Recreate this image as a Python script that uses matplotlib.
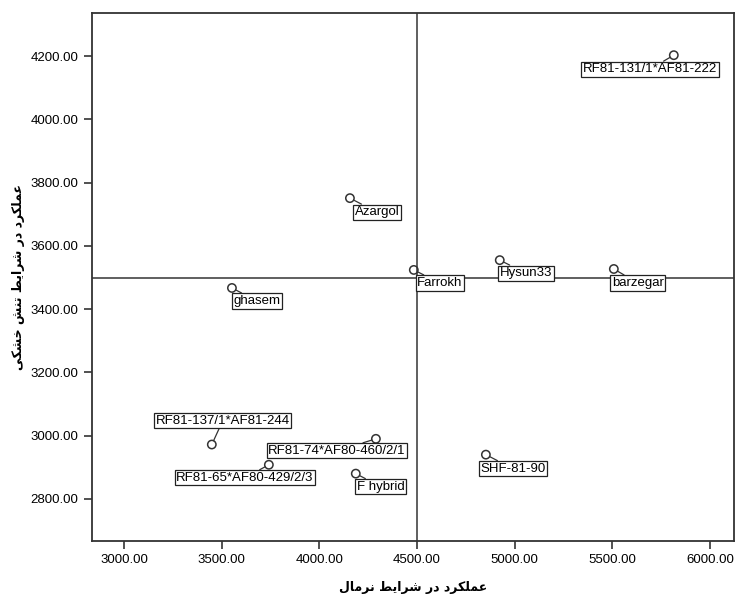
import matplotlib
matplotlib.use('Agg')
import matplotlib.pyplot as plt

plt.rcParams['font.family'] = ['Liberation Sans', 'DejaVu Sans']

# genotypes: yield under normal (x) and drought stress (y)
names = ['RF81-131/1*AF81-222', 'Azargol', 'Farrokh', 'Hysun33', 'barzegar',
         'ghasem', 'RF81-137/1*AF81-244', 'RF81-65*AF80-429/2/3',
         'RF81-74*AF80-460/2/1', 'F hybrid', 'SHF-81-90']
normal = [5815, 4157, 4484, 4924, 5508, 3553, 3450, 3742, 4290, 4187, 4853]
stress = [4203, 3751, 3524, 3555, 3527, 3467, 2972, 2908, 2990, 2880, 2940]
mean_normal = 4500
mean_stress = 3500

xticks = [3000, 3500, 4000, 4500, 5000, 5500, 6000]
yticks = [2800, 3000, 3200, 3400, 3600, 3800, 4000, 4200]

xlabel = 'عملکرد در شرایط نرمال'
ylabel = 'عملکرد در شرایط تنش خشکی'

# label offsets in pixels (dx, dy up)
offsets = [(-24, -14), (27, -14), (26, -13), (26, -13), (24, -14), (25, -13),
           (11, 24), (-24, -13), (-39, -12), (25, -13), (27, -14)]


# tiny persian shaper (presentation forms), no external libs
forms = {
    'ا': ('\uFE8D', '\uFE8E', None, None),
    'د': ('\uFEA9', '\uFEAA', None, None),
    'ر': ('\uFEAD', '\uFEAE', None, None),
    'ع': ('\uFEC9', '\uFECA', '\uFECB', '\uFECC'),
    'م': ('\uFEE1', '\uFEE2', '\uFEE3', '\uFEE4'),
    'ل': ('\uFEDD', '\uFEDE', '\uFEDF', '\uFEE0'),
    'ک': ('\uFB8E', '\uFB8F', '\uFB90', '\uFB91'),
    'ش': ('\uFEB5', '\uFEB6', '\uFEB7', '\uFEB8'),
    'ی': ('\uFBFC', '\uFBFD', '\uFBFE', '\uFBFF'),
    'ط': ('\uFEC1', '\uFEC2', '\uFEC3', '\uFEC4'),
    'ن': ('\uFEE5', '\uFEE6', '\uFEE7', '\uFEE8'),
    'ت': ('\uFE95', '\uFE96', '\uFE97', '\uFE98'),
    'خ': ('\uFEA5', '\uFEA6', '\uFEA7', '\uFEA8'),
}


def shape(s):
    out = []
    for i, c in enumerate(s):
        if c not in forms:
            out.append(c)
            continue
        prev = s[i - 1] if i > 0 else ''
        nxt = s[i + 1] if i < len(s) - 1 else ''
        jp = prev in forms and forms[prev][2] is not None
        jn = forms[c][2] is not None and nxt in forms
        f = forms[c]
        if jp and jn:
            out.append(f[3])
        elif jp:
            out.append(f[1])
        elif jn:
            out.append(f[2])
        else:
            out.append(f[0])
    return ''.join(out)[::-1]


fig = plt.figure(figsize=(7.35, 5.96), dpi=100)
ax = fig.add_axes([0.125, 0.0923, 0.8736, 0.8857])

ax.axvline(mean_normal, color='#444444', lw=1.2, zorder=1)
ax.axhline(mean_stress, color='#444444', lw=1.2, zorder=1)

ax.scatter(normal, stress, s=36, facecolors='none', edgecolors='#333333',
           linewidths=1.1, zorder=3)

for n, x, y, off in zip(names, normal, stress, offsets):
    ax.annotate(n, (x, y), xytext=off, textcoords='offset pixels',
                ha='center', va='center', fontsize=9.5, zorder=4,
                bbox=dict(boxstyle='square,pad=0.12', fc='white', ec='#222222', lw=0.9),
                arrowprops=dict(arrowstyle='-', color='#333333', lw=0.9,
                                shrinkA=0, shrinkB=3))

ax.set_xlim(2836, 6123)
ax.set_ylim(2667, 4336)
ax.set_xticks(xticks)
ax.set_yticks(yticks)
ax.set_xticklabels(['%.2f' % v for v in xticks])
ax.set_yticklabels(['%.2f' % v for v in yticks])
ax.tick_params(labelsize=9.5, length=6, width=1.2, color='#333333', direction='out')
for sp in ax.spines.values():
    sp.set_color('#333333')
    sp.set_linewidth(1.3)

ax.set_xlabel(shape(xlabel), family=['DejaVu Sans'], fontweight='bold',
              fontsize=9, labelpad=11)
ax.set_ylabel(shape(ylabel), family=['DejaVu Sans'], fontweight='bold',
              fontsize=9, labelpad=4)

fig.savefig('out.png', dpi=100)
